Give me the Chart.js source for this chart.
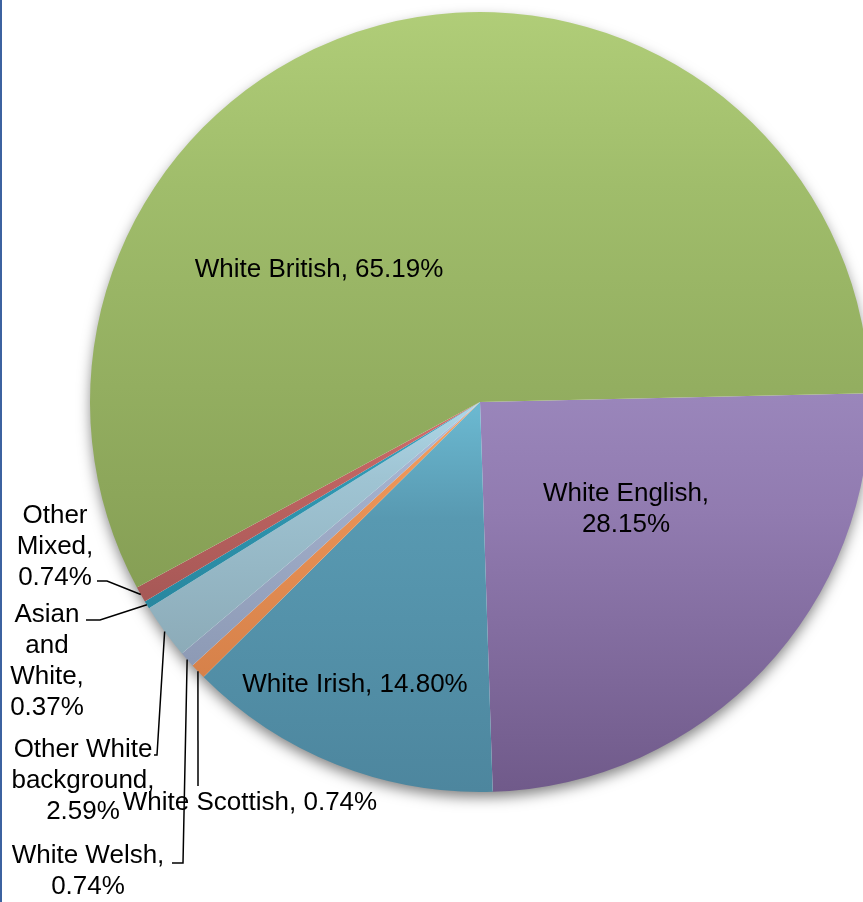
<!DOCTYPE html>
<html>
<head>
<meta charset="utf-8">
<title>Ethnicity breakdown</title>
<script src="https://cdn.jsdelivr.net/npm/chart.js@4.4.1/dist/chart.umd.min.js"></script>
<style>
  html, body { margin: 0; padding: 0; overflow: hidden; background: #fff; }
  #wrap { position: relative; width: 863px; height: 902px; overflow: hidden; }
  #wrap canvas { position: absolute; left: 0; top: 0; }
  #edge { position: absolute; left: 0; top: 0; width: 2px; height: 902px; background: #3c62a0; }
</style>
</head>
<body>
<div id="wrap">
  <canvas id="ethnicityChart" width="960" height="902"></canvas>
  <div id="edge"></div>
</div>
<script>
// slice order runs clockwise from the start angle
const categories = ['White English', 'White Irish', 'White Scottish', 'White Welsh',
                    'Other White background', 'Asian and White', 'Other Mixed', 'White British'];
const percentages = [28.15, 14.80, 0.74, 0.74, 2.59, 0.37, 0.74, 65.19];

// gradient stops per slice: top, 30% down, bottom of the slice
const topColors    = ['#9a86bb', '#6cbad2', '#f8a262', '#b3c0dc', '#aed7e8', '#3ba8c6', '#d5716f', '#b0cd78'];
const midColors    = ['#917bb0', '#5899b1', '#eb9457', '#a3b0cc', '#9fc4d3', '#3199b4', '#c26563', '#a0bd6b'];
const bottomColors = ['#705a8a', '#4d869e', '#d6814a', '#8d9ab5', '#8cabb8', '#28879f', '#a65856', '#869f55'];

const startAngle = 88.7;

// label placement: x/y = centre of first line, rows = words on each line,
// leader = points from the text toward the slice edge
const labelLayout = [
  { x: 626, y: 494, rows: [2, 1] },
  { x: 355, y: 685, rows: [3] },
  { x: 250, y: 803, rows: [3], leader: [[198, 786]] },
  { x: 88,  y: 856, rows: [2, 1], leader: [[172, 863], [183, 863]] },
  { x: 83,  y: 750, rows: [2, 1, 1], leader: [[154, 755], [157, 755]] },
  { x: 47,  y: 615, rows: [1, 1, 1, 1], leader: [[86, 620], [100, 620]] },
  { x: 55,  y: 516, rows: [1, 1, 1], leader: [[97, 581], [107, 581]] },
  { x: 319, y: 270, rows: [3] }
];
const lineHeight = 31;

function labelLines(i) {
  const words = (categories[i] + ', ' + percentages[i].toFixed(2) + '%').split(' ');
  const lines = [];
  let k = 0;
  labelLayout[i].rows.forEach(n => {
    lines.push(words.slice(k, k + n).join(' '));
    k += n;
  });
  return lines;
}

// vertical gradient spanning the bounding box of each sector
function sliceGradient(ctx) {
  const chart = ctx.chart;
  const area = chart.chartArea;
  const i = ctx.dataIndex;
  if (!area) return topColors[i];
  const cx = (area.left + area.right) / 2;
  const cy = (area.top + area.bottom) / 2;
  const r = Math.min(area.right - area.left, area.bottom - area.top) / 2;
  const total = percentages.reduce((a, b) => a + b, 0);
  let a0 = -Math.PI / 2 + startAngle * Math.PI / 180;
  for (let k = 0; k < i; k++) a0 += 2 * Math.PI * percentages[k] / total;
  const a1 = a0 + 2 * Math.PI * percentages[i] / total;
  const ys = [cy, cy + r * Math.sin(a0), cy + r * Math.sin(a1)];
  [Math.PI / 2, -Math.PI / 2].forEach(ext => {
    for (let k = -2; k <= 2; k++) {
      const a = ext + k * 2 * Math.PI;
      if (a >= a0 && a <= a1) ys.push(cy + r * Math.sin(a));
    }
  });
  const y0 = Math.min(...ys);
  const y1 = Math.max(...ys);
  const g = chart.ctx.createLinearGradient(0, y0, 0, Math.max(y1, y0 + 1));
  g.addColorStop(0, topColors[i]);
  g.addColorStop(0.3, midColors[i]);
  g.addColorStop(1, bottomColors[i]);
  return g;
}

// soft drop shadow under the whole pie
const pieShadow = {
  id: 'pieShadow',
  beforeDatasetsDraw(chart) {
    const arc = chart.getDatasetMeta(0).data[0];
    if (!arc) return;
    const c = chart.ctx;
    c.save();
    c.shadowColor = 'rgba(0, 0, 0, 0.5)';
    c.shadowBlur = 14;
    c.shadowOffsetY = 6;
    c.fillStyle = '#ffffff';
    c.beginPath();
    c.arc(arc.x, arc.y, arc.outerRadius - 1, 0, 2 * Math.PI);
    c.fill();
    c.restore();
  }
};

// data labels with leader lines for the thin slices
const sliceLabels = {
  id: 'sliceLabels',
  afterDatasetsDraw(chart) {
    const c = chart.ctx;
    const arcs = chart.getDatasetMeta(0).data;
    c.save();
    c.strokeStyle = '#000';
    c.lineWidth = 1.5;
    arcs.forEach((arc, i) => {
      const lay = labelLayout[i];
      if (!lay.leader) return;
      const mid = (arc.startAngle + arc.endAngle) / 2;
      const ex = arc.x + arc.outerRadius * Math.cos(mid);
      const ey = arc.y + arc.outerRadius * Math.sin(mid);
      c.beginPath();
      c.moveTo(lay.leader[0][0], lay.leader[0][1]);
      lay.leader.slice(1).forEach(p => c.lineTo(p[0], p[1]));
      c.lineTo(ex, ey);
      c.stroke();
    });
    c.fillStyle = '#000';
    c.font = '26px "Liberation Sans", Arial, sans-serif';
    c.textAlign = 'center';
    c.textBaseline = 'middle';
    arcs.forEach((arc, i) => {
      const lay = labelLayout[i];
      labelLines(i).forEach((line, n) => {
        c.fillText(line, lay.x, lay.y + n * lineHeight);
      });
    });
    c.restore();
  }
};

const ctx = document.getElementById('ethnicityChart').getContext('2d');
new Chart(ctx, {
  type: 'pie',
  data: {
    labels: categories,
    datasets: [{
      data: percentages,
      backgroundColor: sliceGradient,
      borderWidth: 0
    }]
  },
  options: {
    responsive: false,
    animation: false,
    rotation: startAngle,
    layout: {
      padding: { left: 90, right: 90, top: 12, bottom: 110 }
    },
    plugins: {
      legend: { display: false },
      tooltip: { enabled: false }
    }
  },
  plugins: [pieShadow, sliceLabels]
});
</script>
</body>
</html>
